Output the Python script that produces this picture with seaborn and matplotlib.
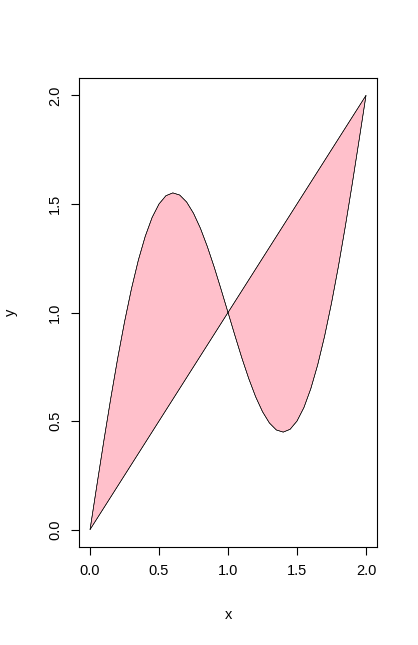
import numpy as np
import pandas as pd
import seaborn as sns
import matplotlib
matplotlib.use("Agg")
import matplotlib.pyplot as plt

# values (upper/lower wave) and the straight diagonal
curve_x = [0.00, 0.05, 0.10, 0.15, 0.20, 0.25, 0.30, 0.35, 0.40, 0.45,
           0.50, 0.55, 0.60, 0.65, 0.70, 0.75, 0.80, 0.85, 0.90, 0.95,
           1.00, 1.05, 1.10, 1.15, 1.20, 1.25, 1.30, 1.35, 1.40, 1.45,
           1.50, 1.55, 1.60, 1.65, 1.70, 1.75, 1.80, 1.85, 1.90, 1.95, 2.00]
curve_y = [0.000, 0.206, 0.409, 0.604, 0.788, 0.957, 1.109, 1.241, 1.351, 1.438,
           1.500, 1.538, 1.551, 1.541, 1.509, 1.457, 1.388, 1.304, 1.209, 1.106,
           1.000, 0.894, 0.791, 0.696, 0.612, 0.543, 0.491, 0.459, 0.449, 0.462,
           0.500, 0.562, 0.649, 0.759, 0.891, 1.043, 1.212, 1.396, 1.591, 1.794, 2.000]
line_x = [0.0, 2.0]
line_y = [0.0, 2.0]

tick_vals = [0.0, 0.5, 1.0, 1.5, 2.0]
tick_labels = ["0.0", "0.5", "1.0", "1.5", "2.0"]

sns.set_style("white", {"text.color": "black", "axes.labelcolor": "black",
                        "xtick.color": "black", "ytick.color": "black"})
plt.rcParams["font.family"] = ["Liberation Sans", "DejaVu Sans"]

fig = plt.figure(figsize=(4.18, 6.45), dpi=100)
ax = fig.add_axes([0.189, 0.152, 0.713, 0.727])

# polygon: curve forward, diagonal back
poly_x = curve_x + curve_x[::-1]
poly_y = curve_y + curve_x[::-1]
ax.fill(poly_x, poly_y, facecolor="pink", edgecolor="black", linewidth=0.4)

df = pd.DataFrame({"x": curve_x, "y": curve_y})
sns.lineplot(data=df, x="x", y="y", sort=False, color="black", linewidth=0.4, ax=ax)
sns.lineplot(x=line_x, y=line_y, color="black", linewidth=0.4, ax=ax)

ax.set_xlim(-0.08, 2.08)
ax.set_ylim(-0.08, 2.08)
ax.set_xticks(tick_vals)
ax.set_xticklabels(tick_labels)
ax.set_yticks(tick_vals)
ax.set_yticklabels(tick_labels, rotation=90, va="center")
ax.tick_params(direction="out", length=6, width=0.8, colors="black",
               labelsize=10.5, pad=6, bottom=True, left=True)
for s in ax.spines.values():
    s.set_color("black")
    s.set_linewidth(0.8)
    s.set_visible(True)

ax.set_xlabel("x", fontsize=10.5, labelpad=22, color="black")
ax.set_ylabel("y", fontsize=10.5, labelpad=22, color="black")

fig.savefig("out.png", dpi=100, facecolor="white")
